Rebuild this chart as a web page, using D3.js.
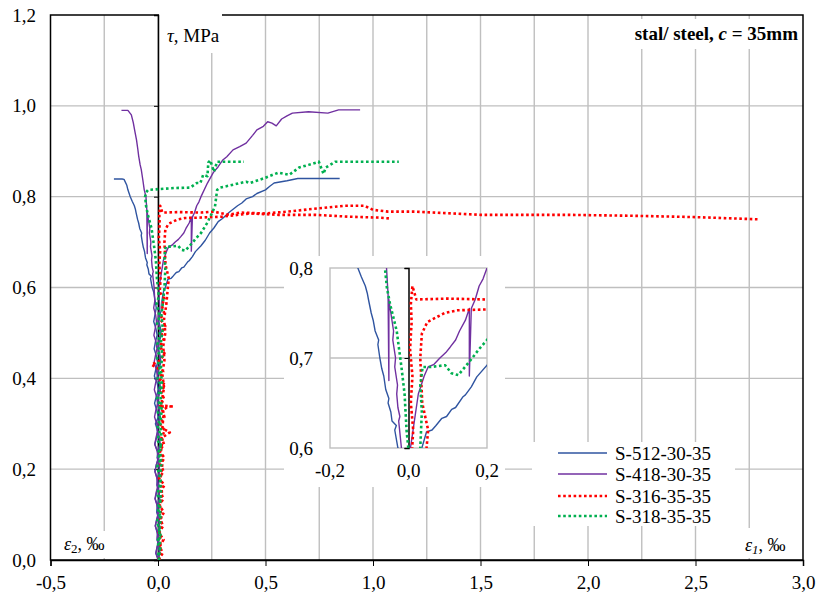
<!DOCTYPE html>
<html><head><meta charset="utf-8">
<script src="https://cdn.jsdelivr.net/npm/d3@7"></script>
<style>
body{margin:0;background:#fff}
svg text{font-family:"Liberation Serif","Tinos","Times New Roman","DejaVu Serif",serif !important;fill:#000}
</style></head>
<body><svg id="c" width="819" height="597"></svg>
<script>
// ---------------- DATA ----------------
const seriesNames = ["S-512-30-35","S-418-30-35","S-316-35-35","S-318-35-35"];
const seriesColors = ["#2F54A0","#7030A0","#FF0000","#00B050"];
const seriesDotted = [false,false,true,true];
const xTicks = [-0.5,0,0.5,1.0,1.5,2.0,2.5,3.0];
const yTicks = [0,0.2,0.4,0.6,0.8,1.0,1.2];
const insetXTicks = [-0.2,0,0.2];
const insetYTicks = [0.6,0.7,0.8];

// S-512-30-35 : eps2 branch and eps1 branch  [strain ‰, tau MPa]
const s512_e2 = [[0.004,0],[-0.01,0.015],[-0.003,0.03],[0.005,0.045],[-0.004,0.06],[-0.012,0.075],[-0.005,0.09],[0.004,0.105],[-0.003,0.12],[-0.013,0.135],[-0.006,0.15],[0.003,0.165],[-0.004,0.18],[-0.014,0.195],[-0.008,0.21],[0.003,0.225],[-0.003,0.24],[-0.015,0.255],[-0.006,0.27],[-0.002,0.285],[-0.012,0.30],[0.001,0.315],[-0.006,0.33],[-0.016,0.345],[-0.008,0.36],[0.002,0.375],[-0.004,0.39],[-0.017,0.405],[-0.01,0.42],[-0.002,0.435],[-0.008,0.45],[-0.018,0.465],[-0.012,0.48],[-0.004,0.495],[-0.01,0.51],[-0.02,0.525],[-0.014,0.54],[-0.008,0.555],[-0.013,0.57],[-0.02,0.59],[-0.027,0.6],[-0.035,0.62],[-0.031,0.625],[-0.042,0.63],[-0.045,0.64],[-0.052,0.65],[-0.05,0.655],[-0.058,0.665],[-0.063,0.68],[-0.068,0.688],[-0.073,0.70],[-0.078,0.715],[-0.076,0.72],[-0.085,0.73],[-0.09,0.742],[-0.095,0.75],[-0.102,0.765],[-0.105,0.772],[-0.11,0.78],[-0.12,0.79],[-0.129,0.80],[-0.14,0.815],[-0.145,0.825],[-0.158,0.838],[-0.167,0.839],[-0.205,0.839]];
const s512_e1 = [[0.002,0],[0.008,0.015],[0.006,0.03],[-0.004,0.045],[-0.002,0.06],[0.007,0.075],[0.004,0.09],[-0.006,0.105],[-0.004,0.12],[0.006,0.135],[0.003,0.15],[-0.005,0.165],[-0.003,0.18],[0.008,0.195],[0.005,0.21],[-0.004,0.225],[-0.001,0.24],[0.009,0.255],[0.006,0.27],[-0.003,0.285],[0.0,0.30],[0.01,0.315],[0.007,0.33],[-0.002,0.345],[0.002,0.36],[0.011,0.375],[0.008,0.39],[-0.001,0.405],[0.003,0.42],[0.013,0.435],[0.01,0.45],[0.002,0.465],[0.005,0.48],[0.015,0.495],[0.012,0.51],[0.004,0.525],[0.008,0.54],[0.02,0.555],[0.018,0.57],[0.025,0.59],[0.034,0.6],[0.046,0.618],[0.06,0.62],[0.07,0.625],[0.085,0.633],[0.097,0.635],[0.11,0.643],[0.12,0.645],[0.139,0.657],[0.145,0.659],[0.16,0.668],[0.174,0.679],[0.2,0.692],[0.22,0.704],[0.24,0.72],[0.26,0.731],[0.28,0.745],[0.3,0.752],[0.33,0.765],[0.37,0.78],[0.39,0.786],[0.41,0.795],[0.44,0.8],[0.46,0.807],[0.5,0.815],[0.52,0.823],[0.54,0.83],[0.6,0.835],[0.65,0.84],[0.845,0.84]];

// S-418-30-35
const s418_e2 = [[0,0],[-0.01,0.015],[-0.004,0.03],[0.004,0.045],[-0.002,0.06],[-0.013,0.075],[-0.006,0.09],[0.002,0.105],[-0.004,0.12],[-0.014,0.135],[-0.008,0.15],[0.0,0.165],[-0.005,0.18],[-0.014,0.195],[-0.007,0.21],[0.001,0.225],[-0.004,0.24],[-0.015,0.255],[-0.009,0.27],[-0.001,0.285],[-0.006,0.30],[-0.016,0.315],[-0.01,0.33],[-0.002,0.345],[-0.007,0.36],[-0.017,0.375],[-0.011,0.39],[-0.003,0.405],[-0.008,0.42],[-0.018,0.435],[-0.012,0.45],[-0.005,0.465],[-0.009,0.48],[-0.019,0.495],[-0.013,0.51],[-0.007,0.525],[-0.011,0.54],[-0.02,0.555],[-0.015,0.57],[-0.018,0.6],[-0.025,0.63],[-0.022,0.635],[-0.027,0.645],[-0.03,0.66],[-0.028,0.67],[-0.035,0.69],[-0.033,0.7],[-0.04,0.72],[-0.038,0.73],[-0.045,0.75],[-0.05,0.765],[-0.05,0.675],[-0.052,0.77],[-0.056,0.8],[-0.064,0.815],[-0.07,0.835],[-0.078,0.86],[-0.083,0.87],[-0.09,0.89],[-0.094,0.905],[-0.1,0.925],[-0.108,0.945],[-0.115,0.963],[-0.124,0.98],[-0.14,0.99],[-0.17,0.99]];
const s418_e1 = [[0,0],[0.006,0.015],[0.003,0.03],[-0.004,0.045],[-0.002,0.06],[0.007,0.075],[0.004,0.09],[-0.003,0.105],[0.0,0.12],[0.008,0.135],[0.005,0.15],[-0.004,0.165],[-0.001,0.18],[0.007,0.195],[0.004,0.21],[-0.002,0.225],[0.001,0.24],[0.009,0.255],[0.006,0.27],[-0.003,0.285],[0.0,0.30],[0.008,0.315],[0.005,0.33],[-0.001,0.345],[0.002,0.36],[0.01,0.375],[0.007,0.39],[-0.002,0.405],[0.001,0.42],[0.009,0.435],[0.006,0.45],[-0.001,0.465],[0.002,0.48],[0.01,0.495],[0.007,0.51],[0.0,0.525],[0.003,0.54],[0.009,0.555],[0.006,0.57],[0.005,0.6],[0.015,0.63],[0.025,0.66],[0.04,0.68],[0.05,0.69],[0.065,0.693],[0.08,0.70],[0.095,0.706],[0.106,0.712],[0.12,0.72],[0.13,0.73],[0.145,0.742],[0.155,0.755],[0.155,0.68],[0.16,0.755],[0.17,0.765],[0.18,0.78],[0.19,0.788],[0.2,0.8],[0.23,0.83],[0.257,0.853],[0.28,0.866],[0.3,0.88],[0.32,0.888],[0.349,0.903],[0.38,0.91],[0.41,0.918],[0.44,0.935],[0.46,0.947],[0.49,0.955],[0.51,0.965],[0.53,0.962],[0.55,0.956],[0.575,0.971],[0.6,0.978],[0.625,0.984],[0.70,0.987],[0.79,0.984],[0.84,0.991],[0.94,0.991]];

// S-316-35-35 (two recorded branches)
const s316_a = [[0.002,0],[0.022,0.015],[0.008,0.03],[0.026,0.045],[0.004,0.06],[0.024,0.075],[0.01,0.09],[0.028,0.105],[0.006,0.12],[0.025,0.135],[0.012,0.15],[0.03,0.165],[0.005,0.18],[0.026,0.195],[0.012,0.21],[0.03,0.225],[0.007,0.24],[0.028,0.255],[0.016,0.27],[0.032,0.285],[0.008,0.30],[0.03,0.315],[0.02,0.33],[0.05,0.338],[0.073,0.338],[0.01,0.34],[0.028,0.355],[0.015,0.37],[0.032,0.385],[0.006,0.40],[0.024,0.415],[-0.03,0.43],[0.012,0.44],[0.03,0.455],[0.008,0.47],[0.026,0.485],[0.016,0.5],[0.034,0.515],[0.01,0.53],[0.028,0.545],[0.018,0.56],[0.03,0.575],[0.008,0.59],[0.012,0.62],[0.006,0.65],[0.01,0.68],[0.004,0.71],[0.008,0.74],[0.006,0.76],[0.01,0.78],[0.02,0.765],[0.1,0.766],[0.2,0.765],[0.26,0.767],[0.33,0.76],[0.38,0.765],[0.5,0.763],[0.6,0.767],[0.7,0.772],[0.87,0.78],[0.96,0.78],[1.0,0.771],[1.07,0.767],[1.2,0.767],[1.5,0.76],[1.9,0.76],[2.2,0.758],[2.5,0.755],[2.8,0.75]];
const s316_b = [[0.005,0],[0.012,0.03],[0.008,0.06],[0.016,0.09],[0.01,0.12],[0.018,0.15],[0.012,0.18],[0.02,0.21],[0.014,0.24],[0.022,0.27],[0.055,0.281],[0.02,0.29],[0.026,0.32],[0.018,0.35],[0.028,0.38],[0.02,0.41],[0.03,0.44],[0.024,0.47],[0.034,0.5],[0.028,0.53],[0.038,0.56],[0.046,0.6],[0.05,0.62],[0.035,0.65],[0.03,0.7],[0.034,0.727],[0.048,0.74],[0.092,0.75],[0.125,0.753],[0.2,0.754],[0.3,0.756],[0.427,0.763],[0.56,0.76],[0.73,0.76],[0.885,0.756],[1.02,0.754],[1.08,0.752]];

// S-318-35-35
const s318_e2 = [[0,0.01],[0.01,0.025],[-0.004,0.04],[0.012,0.055],[0.004,0.07],[-0.005,0.085],[0.008,0.1],[-0.002,0.115],[0.011,0.13],[-0.004,0.145],[0.006,0.16],[0.012,0.175],[0.005,0.19],[-0.004,0.205],[0.01,0.22],[0.0,0.235],[0.012,0.25],[-0.003,0.265],[0.008,0.28],[-0.002,0.295],[0.011,0.31],[0.0,0.325],[0.01,0.34],[-0.004,0.355],[0.006,0.37],[0.012,0.385],[-0.002,0.4],[0.009,0.415],[0.004,0.43],[-0.005,0.445],[0.008,0.46],[-0.003,0.475],[0.006,0.49],[0.01,0.505],[-0.004,0.52],[0.007,0.535],[0.002,0.55],[-0.006,0.565],[0.004,0.58],[-0.005,0.62],[-0.01,0.66],[-0.018,0.69],[-0.03,0.73],[-0.047,0.76],[-0.055,0.778],[-0.06,0.8],[-0.055,0.81],[-0.046,0.815],[0.075,0.819],[0.15,0.82],[0.18,0.83],[0.197,0.83],[0.21,0.848],[0.23,0.845],[0.234,0.875],[0.243,0.88],[0.26,0.855],[0.275,0.877],[0.40,0.877]];
const s318_e1 = [[0.004,0],[0.01,0.03],[0.006,0.06],[0.012,0.09],[0.008,0.12],[0.014,0.15],[0.009,0.18],[0.015,0.21],[0.01,0.24],[0.016,0.27],[0.011,0.30],[0.017,0.33],[0.012,0.36],[0.018,0.39],[0.013,0.42],[0.02,0.45],[0.014,0.48],[0.022,0.51],[0.016,0.54],[0.024,0.57],[0.03,0.6],[0.034,0.64],[0.03,0.67],[0.036,0.69],[0.057,0.69],[0.093,0.692],[0.11,0.683],[0.127,0.681],[0.157,0.697],[0.18,0.71],[0.2,0.72],[0.23,0.743],[0.265,0.778],[0.275,0.815],[0.29,0.82],[0.41,0.833],[0.427,0.83],[0.49,0.84],[0.56,0.853],[0.61,0.848],[0.656,0.864],[0.70,0.87],[0.748,0.877],[0.77,0.85],[0.78,0.864],[0.825,0.877],[1.12,0.877]];

const branches = [
  {s:0,d:s512_e2},{s:0,d:s512_e1},
  {s:1,d:s418_e2},{s:1,d:s418_e1},
  {s:2,d:s316_a},{s:2,d:s316_b},
  {s:3,d:s318_e2},{s:3,d:s318_e1}
];

// ---------------- DRAW ----------------
const FONT = '"Liberation Serif","Tinos","Times New Roman","DejaVu Serif",serif';
const svg = d3.select("#c").attr("font-family",FONT);
const fmt = v => d3.format(".1f")(v).replace(".",",").replace("\u2212","-");
const GRID = "#BFBFBF";
const L=50.5, R=803, T=15, B=560;
const x = d3.scaleLinear().domain([-0.5,3.0]).range([L,R]);
const y = d3.scaleLinear().domain([0,1.2]).range([B,T]);

const defs = svg.append("defs");
defs.append("clipPath").attr("id","mainClip")
  .append("rect").attr("x",L).attr("y",T).attr("width",R-L).attr("height",B-T);
defs.append("clipPath").attr("id","insClip")
  .append("rect").attr("x",330).attr("y",268).attr("width",157).attr("height",180);

// gridlines
const g = svg.append("g");
g.selectAll(".vg").data(d3.range(-0.25,3.0,0.25)).join("line")
  .attr("x1",d=>x(d)).attr("x2",d=>x(d)).attr("y1",T).attr("y2",B)
  .attr("stroke",GRID).attr("stroke-width",1.4);
g.selectAll(".hg").data(yTicks.filter(d=>d>0&&d<1.2)).join("line")
  .attr("x1",L).attr("x2",R).attr("y1",d=>y(d)).attr("y2",d=>y(d))
  .attr("stroke",GRID).attr("stroke-width",1.4);

// frame
svg.append("rect").attr("x",L).attr("y",T).attr("width",R-L).attr("height",B-T)
  .attr("fill","none").attr("stroke","#000").attr("stroke-width",1.5);

// label backgrounds
const bgs = [[159,11,63,42],[600,19,202,30],[57,531,55,27],[740,528,60,30]];
svg.selectAll(".bg").data(bgs).join("rect")
  .attr("x",d=>d[0]).attr("y",d=>d[1]).attr("width",d=>d[2]).attr("height",d=>d[3]).attr("fill","#fff");

// axes
const xAxis = d3.axisBottom(x).tickValues(xTicks).tickFormat(fmt).tickSize(6).tickPadding(10);
const xa = svg.append("g").attr("transform",`translate(0,${B})`).call(xAxis)
  .attr("font-family",FONT).attr("font-size",19);
xa.select(".domain").attr("stroke","#000").attr("stroke-width",1.5);

const yAxis = d3.axisLeft(y).tickValues(yTicks).tickFormat("").tickSize(4);
const ya = svg.append("g").attr("transform",`translate(${x(0)},0)`).call(yAxis);
ya.select(".domain").attr("stroke","#000").attr("stroke-width",1.5);
// y tick labels on the left
svg.selectAll(".yl").data(yTicks).join("text")
  .attr("x",36).attr("y",d=>y(d)).attr("text-anchor","end").attr("dominant-baseline","central")
  .attr("font-size",19).text(fmt);

// titles
svg.append("text").attr("x",167).attr("y",42).attr("font-size",19)
  .html('<tspan font-style="italic">τ</tspan>, MPa');
svg.append("text").attr("x",798).attr("y",40).attr("text-anchor","end").attr("font-size",19).attr("font-weight","bold")
  .html('stal/ steel, <tspan font-style="italic">c</tspan> = 35mm');
svg.append("text").attr("x",64).attr("y",550).attr("font-size",18)
  .html('<tspan font-style="italic">ε</tspan><tspan font-size="13" dy="3">2</tspan><tspan dy="-3">, ‰</tspan>');
svg.append("text").attr("x",745).attr("y",551).attr("font-size",18)
  .html('<tspan font-style="italic">ε</tspan><tspan font-size="13" dy="3" font-style="italic">1</tspan><tspan dy="-3">, ‰</tspan>');

function styleLine(sel){
  sel.attr("fill","none")
    .attr("stroke",d=>seriesColors[d.s])
    .attr("stroke-width",d=>seriesDotted[d.s]?2.6:1.4)
    .attr("stroke-dasharray",d=>seriesDotted[d.s]?"2.6 2.6":null)
    .attr("stroke-linejoin","round");
}

// main data
const line = d3.line().x(d=>x(d[0])).y(d=>y(d[1]));
svg.append("g").attr("clip-path","url(#mainClip)")
  .selectAll("path").data(branches).join("path")
  .attr("d",d=>line(d.d)).call(styleLine);

// ---------- inset ----------
const ix = d3.scaleLinear().domain([-0.2,0.2]).range([330,487]);
const iy = d3.scaleLinear().domain([0.6,0.8]).range([448,268]);
const ins = svg.append("g");
ins.append("rect").attr("x",284).attr("y",256).attr("width",221).attr("height",231).attr("fill","#fff");
ins.append("line").attr("x1",330).attr("x2",487).attr("y1",iy(0.7)).attr("y2",iy(0.7)).attr("stroke",GRID).attr("stroke-width",1.4);
ins.append("rect").attr("x",330).attr("y",268).attr("width",157).attr("height",180)
  .attr("fill","none").attr("stroke",GRID).attr("stroke-width",1.4);
const iyAxis = d3.axisLeft(iy).tickValues(insetYTicks).tickSize(4).tickFormat("");
const iya = ins.append("g").attr("transform",`translate(${ix(0)},0)`).call(iyAxis);
iya.select(".domain").attr("stroke","#000").attr("stroke-width",1.5);
ins.selectAll(".iyl").data(insetYTicks).join("text")
  .attr("x",313).attr("y",d=>iy(d)).attr("text-anchor","end").attr("dominant-baseline","central")
  .attr("font-size",19).text(fmt);
ins.selectAll(".ixl").data(insetXTicks).join("text")
  .attr("x",d=>ix(d)).attr("y",477).attr("text-anchor","middle")
  .attr("font-size",19).text(fmt);
const iline = d3.line().x(d=>ix(d[0])).y(d=>iy(d[1]));
ins.append("g").attr("clip-path","url(#insClip)")
  .selectAll("path").data(branches).join("path")
  .attr("d",d=>iline(d.d)).call(styleLine);

// ---------- legend ----------
const leg = svg.append("g");
leg.append("rect").attr("x",532).attr("y",442).attr("width",203).attr("height",84).attr("fill","#fff");
const ly = [453,474,496,516];
const items = leg.selectAll(".li").data(seriesNames.map((n,i)=>({s:i,n}))).join("g")
  .attr("transform",(d,i)=>`translate(0,${ly[i]})`);
items.append("line").attr("x1",558).attr("x2",607).attr("y1",0).attr("y2",0).call(styleLine);
items.append("text").attr("x",615).attr("y",0).attr("dominant-baseline","central")
  .attr("font-size",19).text(d=>d.n);
</script></body></html>
